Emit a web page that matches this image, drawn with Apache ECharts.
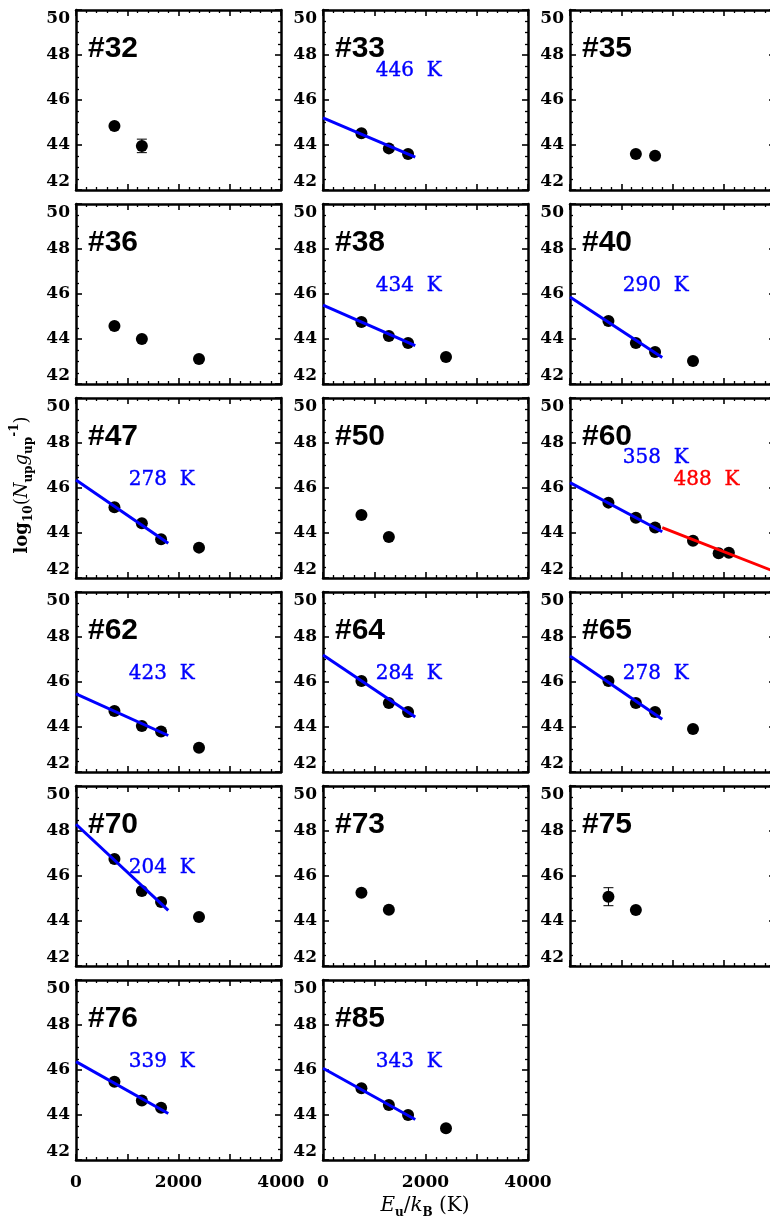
<!DOCTYPE html>
<html>
<head>
<meta charset="utf-8">
<script src="https://cdn.jsdelivr.net/npm/echarts@6/dist/echarts.min.js"></script>
<style>
  html, body { margin: 0; padding: 0; background: #fff; }
  #chart { width: 770px; height: 1221px; }
</style>
</head>
<body>
<div id="chart"></div>
<script>
// Rotation diagrams: log10(N_up / g_up) against upper-level energy E_u/k_B.
const panelNames = ['#32', '#33', '#35', '#36', '#38', '#40', '#47', '#50', '#60',
                    '#62', '#64', '#65', '#70', '#73', '#75', '#76', '#85'];

// Upper-level energies (K) of the measured transitions
const energyK = [750, 1285, 1660, 2400, 2900, 3100];

// log10(N_up/g_up) per source, in the order of energyK (null = not measured)
const logN_32 = [44.84, 43.96];
const logN_33 = [44.52, 43.85, 43.60];
const logN_35 = [null, 43.60, 43.52];
const logN_36 = [44.58, 44.00, null, 43.11];
const logN_38 = [44.76, 44.13, 43.82, 43.20];
const logN_40 = [44.80, 43.82, 43.42, 43.02];
const logN_47 = [45.14, 44.43, 43.72, 43.35];
const logN_50 = [44.80, 43.82];
const logN_60 = [45.35, 44.68, 44.24, 43.66, 43.10, 43.12];
const logN_62 = [44.71, 44.04, 43.80, 43.08];
const logN_64 = [46.04, 45.07, 44.67];
const logN_65 = [46.04, 45.07, 44.67, 43.91];
const logN_70 = [46.76, 45.33, 44.84, 44.18];
const logN_73 = [45.26, 44.50];
const logN_75 = [45.08, 44.49];
const logN_76 = [45.48, 44.64, 44.32];
const logN_85 = [45.19, 44.44, 44.00, 43.41];

const panelValues = [logN_32, logN_33, logN_35, logN_36, logN_38, logN_40, logN_47, logN_50, logN_60,
                     logN_62, logN_64, logN_65, logN_70, logN_73, logN_75, logN_76, logN_85];

// 1-sigma uncertainties where they exceed the symbol size
const errPanels = ['#32', '#75'];
const errBar_32 = [0, 0.30];
const errBar_75 = [0.40, 0];
const errValues = [errBar_32, errBar_75];

// Single-temperature fits over the three lowest levels
const fitPanels    = ['#33', '#38', '#40', '#47', '#60', '#62', '#64', '#65', '#70', '#76', '#85'];
const fitTemp      = [446, 434, 290, 278, 358, 423, 284, 278, 204, 339, 343];
const fitIntercept = [45.21, 45.51, 45.87, 46.36, 46.24, 45.47, 47.20, 47.16, 48.30, 46.37, 46.08];
const fitLabelY    = [47.30, 46.36, 46.36, 46.36, 47.36, 46.36, 46.36, 46.36, 46.36, 46.37, 46.37];
const fitRangeK    = [0, 1800];
const fitLabelX    = 1020;

// Warm component fitted to the higher levels
const warmPanel     = '#60';
const warmTemp      = 488;
const warmIntercept = 45.84;
const warmRangeK    = [1800, 4000];
const warmLabelPos  = [2010, 46.36];

// Axis ranges
const xRange = [0, 4000];
const yRange = [42, 50];
const xMajor = 1000, xLabelStep = 2000, yMajor = 2;

// ---------------------------------------------------------------------------
const BLUE = '#0000ff', RED = '#ff0000';
const SERIF = '"DejaVu Serif", serif';
const L = { left0: 76, top0: 10, colStep: 247, rowStep: 194, w: 205, h: 180, cols: 3 };

function fitLine(a, T, range) {
  return range.map(E => [E, a - E * Math.LOG10E / T]);
}

function xAxisFor(gridIndex, position, showLabels) {
  return {
    type: 'value', gridIndex, position, min: xRange[0], max: xRange[1], interval: xMajor,
    axisLine: { show: true, onZero: false, lineStyle: { color: '#000', width: 2.5 } },
    axisTick: { show: true, inside: true, length: 6, lineStyle: { color: '#000', width: 1.6 } },
    minorTick: { show: true, splitNumber: 5, length: 3, lineStyle: { color: '#000', width: 1.3 } },
    splitLine: { show: false },
    axisLabel: {
      show: showLabels, margin: 14, color: '#000', fontFamily: SERIF, fontWeight: 'bold', fontSize: 17,
      hideOverlap: false, showMinLabel: true, showMaxLabel: true,
      formatter: v => (v % xLabelStep === 0 ? String(v) : '')
    }
  };
}

function yAxisFor(gridIndex, position, showLabels) {
  return {
    type: 'value', gridIndex, position, min: yRange[0], max: yRange[1], interval: yMajor,
    axisLine: { show: true, onZero: false, lineStyle: { color: '#000', width: 2.5 } },
    axisTick: { show: true, inside: true, length: 6, lineStyle: { color: '#000', width: 1.6 } },
    minorTick: { show: true, splitNumber: 4, length: 3, lineStyle: { color: '#000', width: 1.3 } },
    splitLine: { show: false },
    axisLabel: {
      show: showLabels, margin: 6, color: '#000', fontFamily: SERIF, fontWeight: 'bold', fontSize: 17,
      hideOverlap: false, showMinLabel: true, showMaxLabel: true,
      verticalAlignMinLabel: 'bottom', verticalAlignMaxLabel: 'top'
    }
  };
}

function labelSeries(xIdx, yIdx, pos, text, color) {
  return {
    type: 'scatter', xAxisIndex: xIdx, yAxisIndex: yIdx, silent: true, z: 5,
    symbolSize: 1, itemStyle: { color: 'rgba(0,0,0,0)', opacity: 1 },
    data: [pos],
    label: {
      show: true, position: 'right', distance: 0, formatter: text, opacity: 1,
      color, fontFamily: SERIF, fontSize: 20, textBorderWidth: 0.4, textBorderColor: color
    }
  };
}

const grids = [], xAxes = [], yAxes = [], series = [], graphics = [];
const nRows = Math.ceil(panelNames.length / L.cols);

panelNames.forEach((name, i) => {
  const row = Math.floor(i / L.cols), col = i % L.cols;
  const left = L.left0 + col * L.colStep;
  const top = L.top0 + row * L.rowStep;
  grids.push({ left, top, width: L.w, height: L.h, containLabel: false, outerBoundsMode: 'none', show: false });

  const xIdx = xAxes.length, yIdx = yAxes.length;
  xAxes.push(xAxisFor(i, 'bottom', row === nRows - 1));
  xAxes.push(xAxisFor(i, 'top', false));
  yAxes.push(yAxisFor(i, 'left', true));
  yAxes.push(yAxisFor(i, 'right', false));

  // measured levels
  const pts = [];
  panelValues[i].forEach((v, k) => { if (v !== null && v !== undefined) pts.push([energyK[k], v]); });
  series.push({
    type: 'scatter', xAxisIndex: xIdx, yAxisIndex: yIdx, silent: true, z: 2,
    symbol: 'circle', symbolSize: 12, itemStyle: { color: '#000', opacity: 1 }, data: pts
  });

  // error bars
  const e = errPanels.indexOf(name);
  if (e >= 0) {
    const errData = [];
    errValues[e].forEach((s, k) => { if (s > 0) errData.push([energyK[k], panelValues[i][k], s]); });
    series.push({
      type: 'custom', xAxisIndex: xIdx, yAxisIndex: yIdx, silent: true, z: 3, data: errData,
      renderItem(params, api) {
        const x = api.value(0), y = api.value(1), s = api.value(2);
        const p1 = api.coord([x, y + s]), p2 = api.coord([x, y - s]);
        const st = { stroke: '#000', lineWidth: 1 };
        return {
          type: 'group', children: [
            { type: 'line', shape: { x1: p1[0], y1: p1[1], x2: p2[0], y2: p2[1] }, style: st },
            { type: 'line', shape: { x1: p1[0] - 5, y1: p1[1], x2: p1[0] + 5, y2: p1[1] }, style: st },
            { type: 'line', shape: { x1: p2[0] - 5, y1: p2[1], x2: p2[0] + 5, y2: p2[1] }, style: st }
          ]
        };
      }
    });
  }

  // cool-component fit and its temperature
  const f = fitPanels.indexOf(name);
  if (f >= 0) {
    series.push({
      type: 'line', xAxisIndex: xIdx, yAxisIndex: yIdx, silent: true, z: 4,
      showSymbol: false, symbol: 'none',
      lineStyle: { color: BLUE, width: 3, opacity: 1 },
      data: fitLine(fitIntercept[f], fitTemp[f], fitRangeK)
    });
    series.push(labelSeries(xIdx, yIdx, [fitLabelX, fitLabelY[f]], fitTemp[f] + '  K', BLUE));
  }

  // warm component
  if (name === warmPanel) {
    series.push({
      type: 'line', xAxisIndex: xIdx, yAxisIndex: yIdx, silent: true, z: 4,
      showSymbol: false, symbol: 'none',
      lineStyle: { color: RED, width: 3, opacity: 1 },
      data: fitLine(warmIntercept, warmTemp, warmRangeK)
    });
    series.push(labelSeries(xIdx, yIdx, warmLabelPos, warmTemp + '  K', RED));
  }

  // source number
  graphics.push({
    type: 'text', x: left + 12, y: top + 38.5, z: 10,
    style: {
      text: name, fill: '#000', font: 'bold 30px "Liberation Sans", Arial, sans-serif',
      textVerticalAlign: 'middle', verticalAlign: 'middle'
    }
  });
});

// axis titles
graphics.push({
  type: 'text', x: 425, y: 1206, z: 10,
  style: {
    text: '{i|E}{s|u}{n|/}{i|k}{s|B}{n| (K)}',
    align: 'center', verticalAlign: 'middle', textAlign: 'center', textVerticalAlign: 'middle',
    rich: {
      i: { fontFamily: SERIF, fontStyle: 'italic', fontSize: 20, lineHeight: 26, verticalAlign: 'middle', fill: '#000' },
      n: { fontFamily: SERIF, fontSize: 20, lineHeight: 26, verticalAlign: 'middle', fill: '#000' },
      s: { fontFamily: SERIF, fontWeight: 'bold', fontSize: 12, lineHeight: 13, verticalAlign: 'bottom', fill: '#000' }
    }
  }
});

graphics.push({
  type: 'text', x: 22, y: 485, rotation: Math.PI / 2, z: 10,
  style: {
    text: '{b|log}{s|10}{n|(}{i|N}{s|up}{i|g}{s|up}{p|-1}{n|)}',
    align: 'center', verticalAlign: 'middle', textAlign: 'center', textVerticalAlign: 'middle',
    rich: {
      b: { fontFamily: SERIF, fontWeight: 'bold', fontSize: 18, lineHeight: 26, verticalAlign: 'middle', fill: '#000' },
      n: { fontFamily: SERIF, fontSize: 18, lineHeight: 26, verticalAlign: 'middle', fill: '#000' },
      i: { fontFamily: SERIF, fontStyle: 'italic', fontSize: 18, lineHeight: 26, verticalAlign: 'middle', fill: '#000' },
      s: { fontFamily: SERIF, fontWeight: 'bold', fontSize: 12, lineHeight: 12, verticalAlign: 'bottom', fill: '#000' },
      p: { fontFamily: SERIF, fontWeight: 'bold', fontSize: 12, lineHeight: 12, verticalAlign: 'top', fill: '#000' }
    }
  }
});

const chart = echarts.init(document.getElementById('chart'), null, { renderer: 'canvas' });
chart.setOption({
  animation: false,
  backgroundColor: '#fff',
  grid: grids,
  xAxis: xAxes,
  yAxis: yAxes,
  series,
  graphic: graphics
});
</script>
</body>
</html>
